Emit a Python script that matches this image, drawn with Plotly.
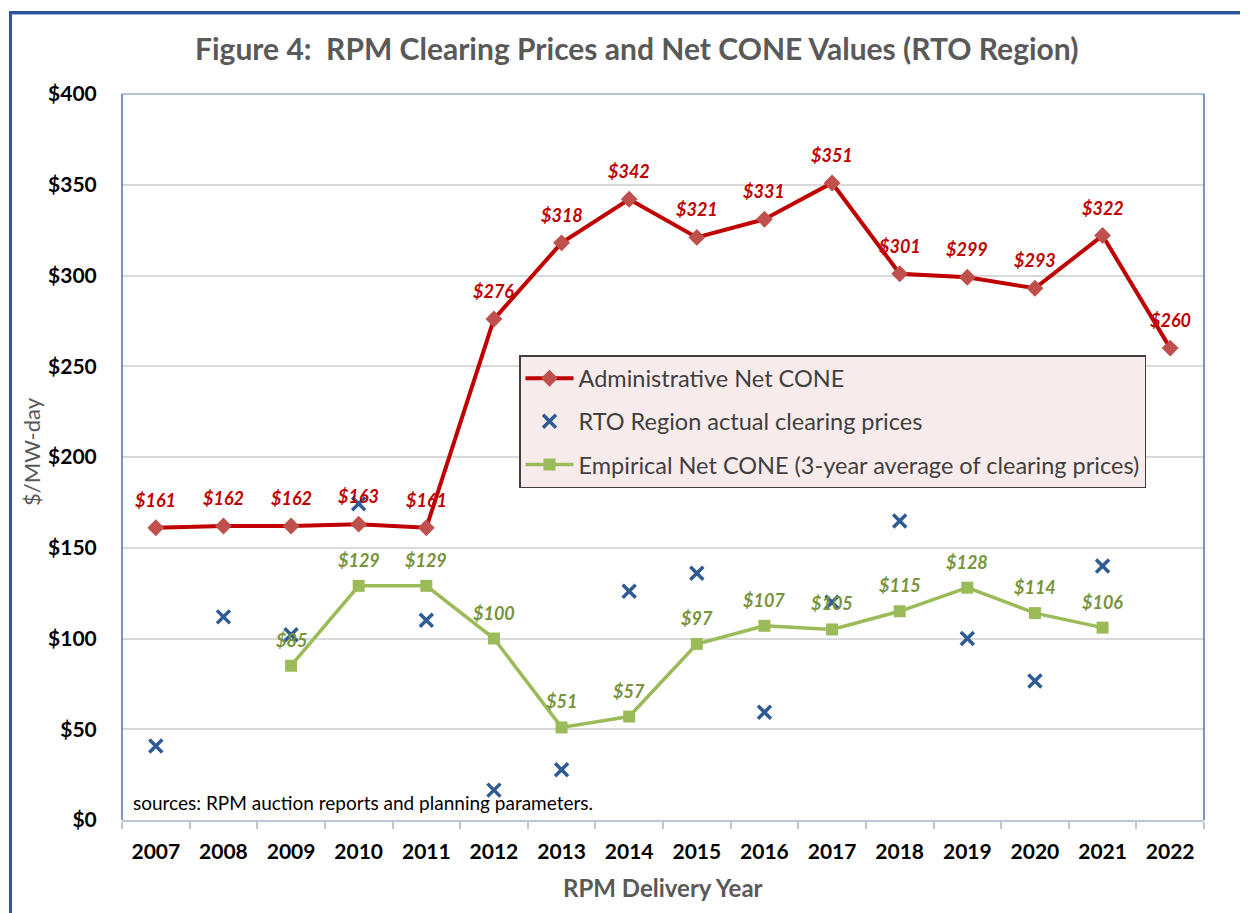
import plotly.graph_objects as go

years = [str(y) for y in range(2007, 2023)]
admin_net_cone = [161, 162, 162, 163, 161, 276, 318, 342, 321, 331, 351, 301, 299, 293, 322, 260]
rto_clearing = [40.80, 111.92, 102.04, 174.29, 110.00, 16.46, 27.73, 125.99, 136.00, 59.37, 120.00, 164.77, 100.00, 76.53, 140.00, None]
empirical_net_cone = [None, None, 85, 129, 129, 100, 51, 57, 97, 107, 105, 115, 128, 114, 106, None]

FONT = "Lato"
OFF = 8  # page body margin
W, H = 1248 - OFF, 913 - OFF
L, R, T, B = 122, 1204, 94, 820  # plot area in reference pixels

def px(x):
    return (x - L) / (R - L)

def py(y):
    return (B - y) / (B - T)

fig = go.Figure()

fig.add_trace(go.Scatter(
    x=years, y=admin_net_cone, name="Administrative Net CONE", legendgroup="a",
    mode="lines+markers",
    line=dict(color="#c00000", width=4),
    marker=dict(symbol="diamond", size=13, color="#c0504d"),
))
fig.add_trace(go.Scatter(
    x=years, y=rto_clearing, name="RTO Region actual clearing prices", legendgroup="b",
    mode="markers",
    marker=dict(symbol="x-thin-open", size=13, color="#2e5b94", line=dict(color="#2e5b94", width=3.5)),
))
fig.add_trace(go.Scatter(
    x=years, y=empirical_net_cone, name="Empirical Net CONE (3-year average of clearing prices)", legendgroup="c",
    mode="lines+markers", connectgaps=False,
    line=dict(color="#9bbb59", width=3.5),
    marker=dict(symbol="square", size=12, color="#9bbb59"),
))

annotations = []
for i, v in enumerate(admin_net_cone):
    annotations.append(dict(x=i, y=v, xref="x", yref="y", text=f"<b><i>${v}</i></b>", showarrow=False,
                            yshift=28, font=dict(family=FONT, size=18, color="#c00000")))
for i, v in enumerate(empirical_net_cone):
    if v is None:
        continue
    annotations.append(dict(x=i, y=v, xref="x", yref="y", text=f"<b><i>${v}</i></b>", showarrow=False,
                            yshift=26, font=dict(family=FONT, size=18, color="#77933c")))

# Title and axis titles
annotations.append(dict(text="<b>Figure 4:  RPM Clearing Prices and Net CONE Values (RTO Region)</b>",
                        x=px(636), y=py(48), xref="paper", yref="paper", showarrow=False,
                        xanchor="center", yanchor="middle", font=dict(family=FONT, size=30, color="#595959")))
annotations.append(dict(text="<b>RPM Delivery Year</b>", x=px(663), y=py(887), xref="paper", yref="paper",
                        showarrow=False, xanchor="center", yanchor="middle",
                        font=dict(family=FONT, size=24, color="#595959")))
annotations.append(dict(text="$/MW-day", x=px(31), y=py(452), xref="paper", yref="paper", textangle=-90,
                        showarrow=False, xanchor="center", yanchor="middle",
                        font=dict(family=FONT, size=22, color="#595959")))
annotations.append(dict(text="sources: RPM auction reports and planning parameters.", x=px(131), y=py(802),
                        xref="paper", yref="paper", showarrow=False, xanchor="left", yanchor="middle",
                        font=dict(family=FONT, size=19, color="#000000")))

shapes = [
    # outer frame
    dict(type="rect", xref="paper", yref="paper", x0=px(10.5), x1=px(1300), y0=py(1000), y1=py(12.5),
         line=dict(color="#2f5597", width=3), layer="below"),
    dict(type="line", xref="paper", yref="paper", x0=px(12), x1=px(1300), y0=py(14.5), y1=py(14.5),
         line=dict(color="#9db3dc", width=1), layer="below"),
    # plot area borders
    dict(type="line", xref="paper", yref="paper", x0=0, x1=1, y0=1, y1=1, line=dict(color="#b7c3d6", width=2)),
    dict(type="line", xref="paper", yref="paper", x0=0, x1=0, y0=0, y1=1, line=dict(color="#4a72b8", width=1.5)),
    dict(type="line", xref="paper", yref="paper", x0=1, x1=1, y0=0, y1=1, line=dict(color="#4a72b8", width=1.5)),
]

fig.update_layout(
    width=W, height=H,
    margin=dict(l=L - OFF, r=1248 - R, t=T - OFF, b=913 - B, autoexpand=False),
    paper_bgcolor="white", plot_bgcolor="white",
    font=dict(family=FONT, color="#000000"),
    showlegend=True,
    legend=dict(
        x=px(519), y=py(355), xanchor="left", yanchor="top",
        bgcolor="#f8ebeb", bordercolor="#404040", borderwidth=1.5,
        font=dict(family=FONT, size=23.5, color="#404040"),
        traceorder="grouped", tracegroupgap=9.5, itemwidth=48,
    ),
    annotations=annotations,
    shapes=shapes,
)

fig.update_xaxes(
    type="category", categoryorder="array", categoryarray=years, range=[-0.5, len(years) - 0.5],
    showgrid=False, showline=True, linecolor="#bcc6d4", linewidth=2,
    ticks="outside", tickson="boundaries", ticklen=7, tickcolor="#bcc6d4", tickwidth=1.5,
    ticklabelstandoff=12,
    tickfont=dict(family=FONT, size=21, color="#000000", weight="bold"),
    automargin=False, fixedrange=True,
)
fig.update_yaxes(
    range=[0, 400], dtick=50, tickprefix="$",
    showgrid=True, gridcolor="#d9d9d9", gridwidth=1.5, zeroline=False,
    showline=False, ticks="outside", ticklen=14, tickcolor="rgba(0,0,0,0)", ticklabelstandoff=6,
    tickfont=dict(family=FONT, size=21, color="#000000", weight="bold"),
    automargin=False, fixedrange=True,
)

fig.write_html("out.html")
